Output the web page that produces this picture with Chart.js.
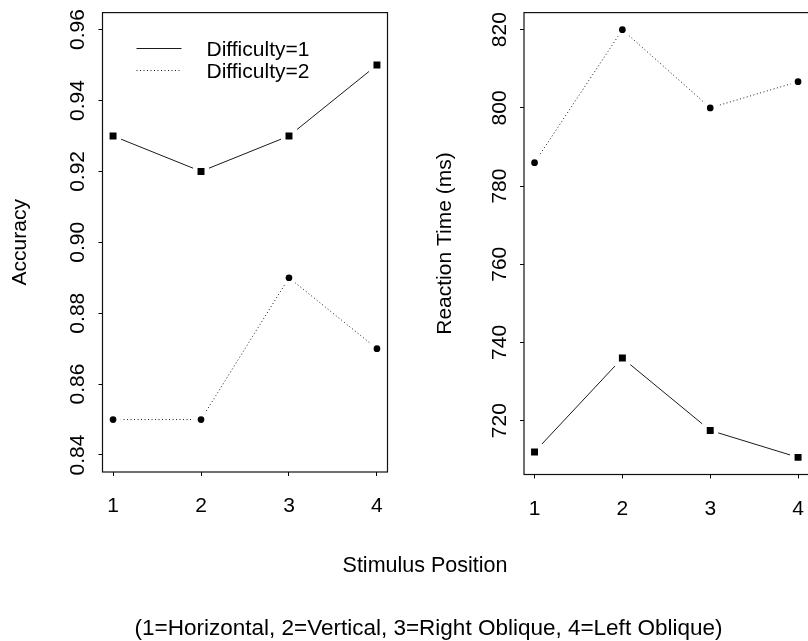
<!DOCTYPE html>
<html>
<head>
<meta charset="utf-8">
<script src="https://cdn.jsdelivr.net/npm/chart.js@4/dist/chart.umd.min.js"></script>
<style>
  html, body { margin: 0; padding: 0; background: #fff; overflow: hidden; }
  #wrap { position: relative; width: 808px; height: 641px; overflow: hidden; background: #fff; }
  #wrap canvas { position: absolute; left: 0; top: 0; }
</style>
</head>
<body>
<div id="wrap">
  <canvas id="acc" width="830" height="641"></canvas>
  <canvas id="rt" width="830" height="641"></canvas>
</div>
<script>
// Stimulus positions (x) and the two difficulty levels
const positions = [1, 2, 3, 4];
const seriesNames = ['Difficulty=1', 'Difficulty=2'];

// Accuracy per position
const accuracyD1 = [0.93, 0.92, 0.93, 0.95];
const accuracyD2 = [0.85, 0.85, 0.89, 0.87];

// Reaction time (ms) per position
const rtD1 = [712, 736, 717.5, 710.6];
const rtD2 = [786, 820, 800, 806.7];

// Tick values and labels
const xTickValues = [1, 2, 3, 4];
const accTickValues = [0.84, 0.86, 0.88, 0.90, 0.92, 0.94, 0.96];
const accTickLabels = ['0.84', '0.86', '0.88', '0.90', '0.92', '0.94', '0.96'];
const rtTickValues = [720, 740, 760, 780, 800, 820];
const rtTickLabels = ['720', '740', '760', '780', '800', '820'];

// Axis titles and caption
const accTitle = 'Accuracy';
const rtTitle = 'Reaction Time (ms)';
const xTitle = 'Stimulus Position';
const caption = '(1=Horizontal, 2=Vertical, 3=Right Oblique, 4=Left Oblique)';

const FONT = "'Liberation Sans', Arial, Helvetica, sans-serif";
const FS = 21;
const INK = '#111';

// axis limits padded by 4% on each side
function padRange(lo, hi) { const d = (hi - lo) * 0.04; return [lo - d, hi + d]; }
const xRange = padRange(Math.min(...positions), Math.max(...positions));
const accRange = padRange(0.84, 0.96);
const rtRange = padRange(Math.min(...rtD1, ...rtD2), Math.max(...rtD1, ...rtD2));

function points(ys) { return positions.map((x, i) => ({ x, y: ys[i] })); }

function series(label, ys, solid) {
  return {
    label,
    data: points(ys),
    borderColor: '#1a1a1a',
    borderWidth: 1,
    borderDash: solid ? [] : [1, 2.5],
    tension: 0,
    fill: false,
    pointStyle: solid ? 'rect' : 'circle',
    pointRadius: solid ? 8.1 : 5.6,
    pointHoverRadius: solid ? 8.1 : 5.6,
    pointBackgroundColor: '#000',
    pointBorderColor: '#fff',
    pointBorderWidth: 4.5,
    pointHoverBorderWidth: 4.5
  };
}

function fixedTicks(values) {
  return function (scale) { scale.ticks = values.map(v => ({ value: v })); };
}

// box around the plot region plus rotated y tick labels
function framePlugin(tickValues, tickLabels, extra) {
  return {
    id: 'frame',
    afterDraw(chart) {
      const { ctx, chartArea: a } = chart;
      const ys = chart.scales.y;
      ctx.save();
      ctx.strokeStyle = INK;
      ctx.lineWidth = 1.2;
      ctx.setLineDash([]);
      ctx.strokeRect(a.left, a.top, a.right - a.left, a.bottom - a.top);
      ctx.fillStyle = '#000';
      ctx.font = FS + 'px ' + FONT;
      ctx.textAlign = 'center';
      ctx.textBaseline = 'alphabetic';
      tickValues.forEach((v, i) => {
        const py = ys.getPixelForValue(v);
        ctx.save();
        ctx.translate(a.left - 18.5, py);
        ctx.rotate(-Math.PI / 2);
        ctx.fillText(tickLabels[i], 0, 0);
        ctx.restore();
      });
      if (extra) extra(ctx, a);
      ctx.restore();
    }
  };
}

// legend inside the accuracy panel and the shared bottom texts
function drawLegendAndCaption(ctx, a) {
  const x0 = a.left + 34, x1 = a.left + 79, tx = a.left + 104;
  ctx.strokeStyle = '#1a1a1a';
  ctx.lineWidth = 1;
  ctx.beginPath(); ctx.moveTo(x0, 48.5); ctx.lineTo(x1, 48.5); ctx.stroke();
  ctx.setLineDash([1, 2.5]);
  ctx.beginPath(); ctx.moveTo(x0, 70.5); ctx.lineTo(x1, 70.5); ctx.stroke();
  ctx.setLineDash([]);
  ctx.textAlign = 'left';
  ctx.fillText(seriesNames[0], tx, 55.7);
  ctx.fillText(seriesNames[1], tx, 77.5);
  ctx.textAlign = 'center';
  ctx.font = '21.5px ' + FONT;
  ctx.fillText(xTitle, 425, 572);
  ctx.font = '22.5px ' + FONT;
  ctx.fillText(caption, 428.5, 635);
}

function makeChart(id, datasets, yRange, yTickValues, yTickLabels, title, geom, extra) {
  return new Chart(document.getElementById(id), {
    type: 'line',
    data: { datasets },
    options: {
      responsive: false,
      animation: false,
      devicePixelRatio: 1,
      layout: { padding: { left: geom.padLeft, right: geom.padRight, top: geom.top, bottom: 0 } },
      plugins: { legend: { display: false }, tooltip: { enabled: false } },
      scales: {
        x: {
          type: 'linear',
          min: xRange[0],
          max: xRange[1],
          afterBuildTicks: fixedTicks(xTickValues),
          afterFit(s) { s.height = geom.xHeight; },
          border: { display: false },
          grid: { drawOnChartArea: false, drawTicks: true, tickLength: 4, color: '#000', lineWidth: 1 },
          ticks: {
            color: '#000', padding: 18, maxRotation: 0, autoSkip: false,
            font: { size: FS, family: FONT },
            callback: v => String(v)
          }
        },
        y: {
          type: 'linear',
          min: yRange[0],
          max: yRange[1],
          afterBuildTicks: fixedTicks(yTickValues),
          afterFit(s) { s.width = geom.yWidth; },
          border: { display: false },
          grid: { drawOnChartArea: false, drawTicks: true, tickLength: 4, color: '#000', lineWidth: 1 },
          ticks: { display: false },
          title: {
            display: true, text: title, color: '#000',
            font: { size: FS, family: FONT, lineHeight: 1.2 },
            padding: { top: geom.titlePad, bottom: 0 }
          }
        }
      }
    },
    plugins: [framePlugin(yTickValues, yTickLabels, extra)]
  });
}

makeChart('acc',
  [series(seriesNames[0], accuracyD1, true), series(seriesNames[1], accuracyD2, false)],
  accRange, accTickValues, accTickLabels, accTitle,
  { padLeft: 0, padRight: 830 - 387.5, top: 10.5, xHeight: 641 - 472, yWidth: 102.5, titlePad: 7.5 },
  drawLegendAndCaption);

makeChart('rt',
  [series(seriesNames[0], rtD1, true), series(seriesNames[1], rtD2, false)],
  rtRange, rtTickValues, rtTickLabels, rtTitle,
  { padLeft: 400, padRight: 830 - 808.6, top: 12.5, xHeight: 641 - 474.5, yWidth: 124, titlePad: 32.9 },
  null);
</script>
</body>
</html>
